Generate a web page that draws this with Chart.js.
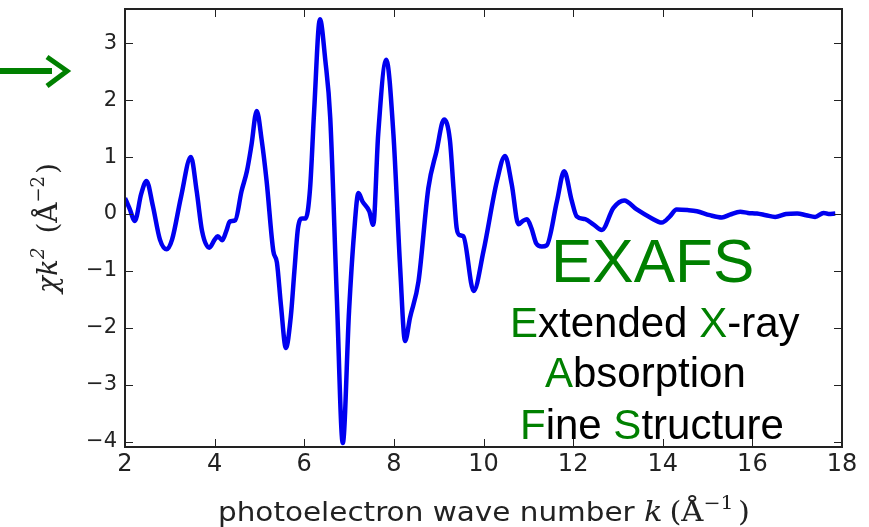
<!DOCTYPE html>
<html>
<head>
<meta charset="utf-8">
<script src="https://cdn.jsdelivr.net/npm/chart.js@4.4.1/dist/chart.umd.min.js"></script>
<style>
  html, body { margin: 0; padding: 0; background: #fff; }
  #exafs { display: block; }
</style>
</head>
<body>
<canvas id="exafs" width="869" height="527"></canvas>
<script>
/* ---------------------------------------------------
   chi(k) * k^2 spectrum
----------------------------------------------------- */
var kValues = [
  2.00, 2.10, 2.22, 2.36, 2.48, 2.62, 2.78, 2.93, 3.05, 3.25,
  3.47, 3.60, 3.72, 3.88, 4.00, 4.07, 4.17, 4.26, 4.34, 4.46,
  4.60, 4.72, 4.82, 4.94, 5.05, 5.16, 5.31, 5.39, 5.48, 5.59,
  5.70, 5.78, 5.86, 5.95, 6.03, 6.13, 6.22, 6.35, 6.47, 6.58,
  6.73, 6.86, 7.00, 7.11, 7.21, 7.30, 7.45, 7.54, 7.65, 7.83,
  7.99, 8.14, 8.25, 8.36, 8.55, 8.77, 8.95, 9.12, 9.25, 9.33,
  9.40, 9.47, 9.55, 9.78, 10.00, 10.30, 10.48, 10.63, 10.78, 10.88,
  10.97, 11.07, 11.18, 11.30, 11.41, 11.64, 11.80, 11.97, 12.08, 12.27,
  12.45, 12.64, 12.90, 13.14, 13.42, 13.72, 13.98, 14.15, 14.31, 14.55,
  14.76, 15.05, 15.32, 15.50, 15.73, 15.90, 16.10, 16.30, 16.51, 16.75,
  17.00, 17.20, 17.40, 17.59, 17.70, 17.85
];
var chiValues = [
  0.28, 0.10, -0.12, 0.35, 0.58, 0.15, -0.45, -0.62, -0.45, 0.30,
  1.00, 0.40, -0.30, -0.59, -0.45, -0.39, -0.46, -0.30, -0.13, -0.11,
  0.40, 0.75, 1.20, 1.81, 1.30, 0.58, -0.65, -0.85, -1.60, -2.35,
  -1.80, -1.00, -0.25, -0.08, -0.08, 0.45, 1.80, 3.42, 2.70, 1.69,
  -1.53, -4.02, -1.70, -0.35, 0.37, 0.22, 0.05, -0.19, 1.40, 2.71,
  1.40, -0.94, -2.23, -1.82, -1.18, 0.46, 1.10, 1.66, 1.30, 0.46,
  -0.24, -0.37, -0.39, -1.35, -0.65, 0.58, 1.02, 0.52, -0.18, -0.12,
  -0.09, -0.25, -0.52, -0.57, -0.55, 0.23, 0.75, 0.23, -0.04, -0.09,
  -0.18, -0.28, 0.11, 0.24, 0.08, -0.06, -0.15, -0.05, 0.08, 0.07,
  0.05, -0.02, -0.06, -0.01, 0.04, 0.02, 0.01, -0.02, -0.05, 0.00,
  0.01, -0.02, -0.05, 0.02, 0.00, 0.01
];
var xTicks = [2, 4, 6, 8, 10, 12, 14, 16, 18];
var yTicks = [-4, -3, -2, -1, 0, 1, 2, 3];

var GREEN = '#008000';
var INK = '#222222';

// draw a run of differently styled text pieces, left to right from (x, y)
function drawPieces(ctx, pieces, x, y)
{
	var cx = x;
	for (var i = 0; i < pieces.length; i++) {
		var p = pieces[i];
		ctx.font = p.font;
		ctx.fillStyle = p.color || INK;
		ctx.fillText(p.text, cx, y - (p.dy || 0));
		cx += ctx.measureText(p.text).width + (p.gap || 0);
	}
	return cx - x;
}
function piecesWidth(ctx, pieces)
{
	var w = 0;
	for (var i = 0; i < pieces.length; i++) {
		ctx.font = pieces[i].font;
		w += ctx.measureText(pieces[i].text).width + (pieces[i].gap || 0);
	}
	return w;
}

var decorations = {
	id: 'decorations',
	afterDraw: function (chart) {
		var ctx = chart.ctx;
		var area = chart.chartArea;
		var xs = chart.scales.x;
		var ys = chart.scales.y;
		ctx.save();

		// matplotlib style ticks, pointing inward on every side
		ctx.strokeStyle = INK;
		ctx.lineWidth = 1;
		ctx.beginPath();
		xTicks.forEach(function (v) {
			var px = Math.round(xs.getPixelForValue(v)) + 0.5;
			ctx.moveTo(px, area.bottom); ctx.lineTo(px, area.bottom - 8);
			ctx.moveTo(px, area.top); ctx.lineTo(px, area.top + 8);
		});
		yTicks.forEach(function (v) {
			var py = Math.round(ys.getPixelForValue(v)) + 0.5;
			ctx.moveTo(area.left, py); ctx.lineTo(area.left + 8, py);
			ctx.moveTo(area.right, py); ctx.lineTo(area.right - 8, py);
		});
		ctx.stroke();

		// frame
		ctx.lineWidth = 2;
		ctx.strokeRect(area.left, area.top, area.right - area.left, area.bottom - area.top);

		// x axis title
		ctx.textBaseline = 'alphabetic';
		var xTitle = [
			{text: 'photoelectron wave number ', font: '26px "DejaVu Sans"'},
			{text: 'k', font: 'italic 27px "DejaVu Serif"', gap: 6},
			{text: '(', font: '27px "DejaVu Serif"'},
			{text: 'Å', font: '27px "DejaVu Serif"'},
			{text: '−1', font: '18px "DejaVu Serif"', dy: 12, gap: 4},
			{text: ')', font: '27px "DejaVu Serif"'}
		];
		var targetW = 532;
		var w = piecesWidth(ctx, xTitle);
		ctx.save();
		ctx.translate(218, 521);
		ctx.scale(targetW / w, 1);
		drawPieces(ctx, xTitle, 0, 0);
		ctx.restore();

		// y axis title, rotated
		var yTitle = [
			{text: 'χ', font: 'italic 28px "DejaVu Serif"'},
			{text: 'k', font: 'italic 28px "DejaVu Serif"'},
			{text: '2', font: 'italic 18px "DejaVu Serif"', dy: 13, gap: 14},
			{text: '(', font: '28px "DejaVu Serif"'},
			{text: 'Å', font: '28px "DejaVu Serif"'},
			{text: '−2', font: '18px "DejaVu Serif"', dy: 13, gap: 2},
			{text: ')', font: '28px "DejaVu Serif"'}
		];
		var yw = piecesWidth(ctx, yTitle);
		ctx.save();
		ctx.translate(57, 228);
		ctx.rotate(-Math.PI / 2);
		drawPieces(ctx, yTitle, -yw / 2, 0);
		ctx.restore();

		// EXAFS annotation
		var big = '62px "Liberation Sans", Arial, sans-serif';
		var mid = '42px "Liberation Sans", Arial, sans-serif';
		drawPieces(ctx, [{text: 'EXAFS', font: big, color: GREEN}], 551, 282);
		drawPieces(ctx, [
			{text: 'E', font: mid, color: GREEN},
			{text: 'xtended ', font: mid, color: '#000'},
			{text: 'X', font: mid, color: GREEN},
			{text: '-ray', font: mid, color: '#000'}
		], 510, 337);
		drawPieces(ctx, [
			{text: 'A', font: mid, color: GREEN},
			{text: 'bsorption', font: mid, color: '#000'}
		], 545, 387);
		drawPieces(ctx, [
			{text: 'F', font: mid, color: GREEN},
			{text: 'ine ', font: mid, color: '#000'},
			{text: 'S', font: mid, color: GREEN},
			{text: 'tructure', font: mid, color: '#000'}
		], 520, 439);

		// green pointer arrow on the left
		ctx.strokeStyle = GREEN;
		ctx.lineWidth = 6;
		ctx.lineCap = 'butt';
		ctx.beginPath();
		ctx.moveTo(0, 71); ctx.lineTo(52, 71);
		ctx.stroke();
		ctx.lineWidth = 5;
		ctx.beginPath();
		ctx.moveTo(47, 57); ctx.lineTo(67, 71); ctx.lineTo(47, 86);
		ctx.stroke();

		ctx.restore();
	}
};

var ctxE = document.getElementById('exafs').getContext('2d');
var spectrumChart = new Chart(ctxE, {
	type: 'line',
	data: {
		datasets: [{
			data: kValues.map(function (k, i) { return {x: k, y: chiValues[i]}; }),
			borderColor: '#0000f0',
			borderWidth: 4.5,
			pointRadius: 0,
			fill: false,
			cubicInterpolationMode: 'monotone'
		}]
	},
	options: {
		responsive: false,
		animation: false,
		devicePixelRatio: 1,
		layout: { padding: {left: 0, top: 9, right: 27, bottom: 0} },
		plugins: { legend: {display: false}, tooltip: {enabled: false} },
		scales: {
			x: {
				type: 'linear',
				min: 2,
				max: 18,
				afterBuildTicks: function (s) { s.ticks = xTicks.map(function (v) { return {value: v}; }); },
				afterFit: function (s) { s.height = 80; s.paddingLeft = 0; s.paddingRight = 0; },
				grid: {display: false, drawTicks: false},
				border: {display: false},
				ticks: {
					font: {family: 'DejaVu Sans', size: 24},
					color: INK,
					padding: 3,
					maxRotation: 0
				}
			},
			y: {
				type: 'linear',
				min: -4.09,
				max: 3.6,
				afterBuildTicks: function (s) { s.ticks = yTicks.map(function (v) { return {value: v}; }); },
				afterFit: function (s) { s.width = 125; s.paddingTop = 0; s.paddingBottom = 0; },
				grid: {display: false, drawTicks: false},
				border: {display: false},
				ticks: {
					font: {family: 'DejaVu Sans', size: 21},
					color: INK,
					padding: 8,
					callback: function (v) { return v < 0 ? '−' + Math.abs(v) : '' + v; }
				}
			}
		}
	},
	plugins: [decorations]
});
</script>
</body>
</html>
